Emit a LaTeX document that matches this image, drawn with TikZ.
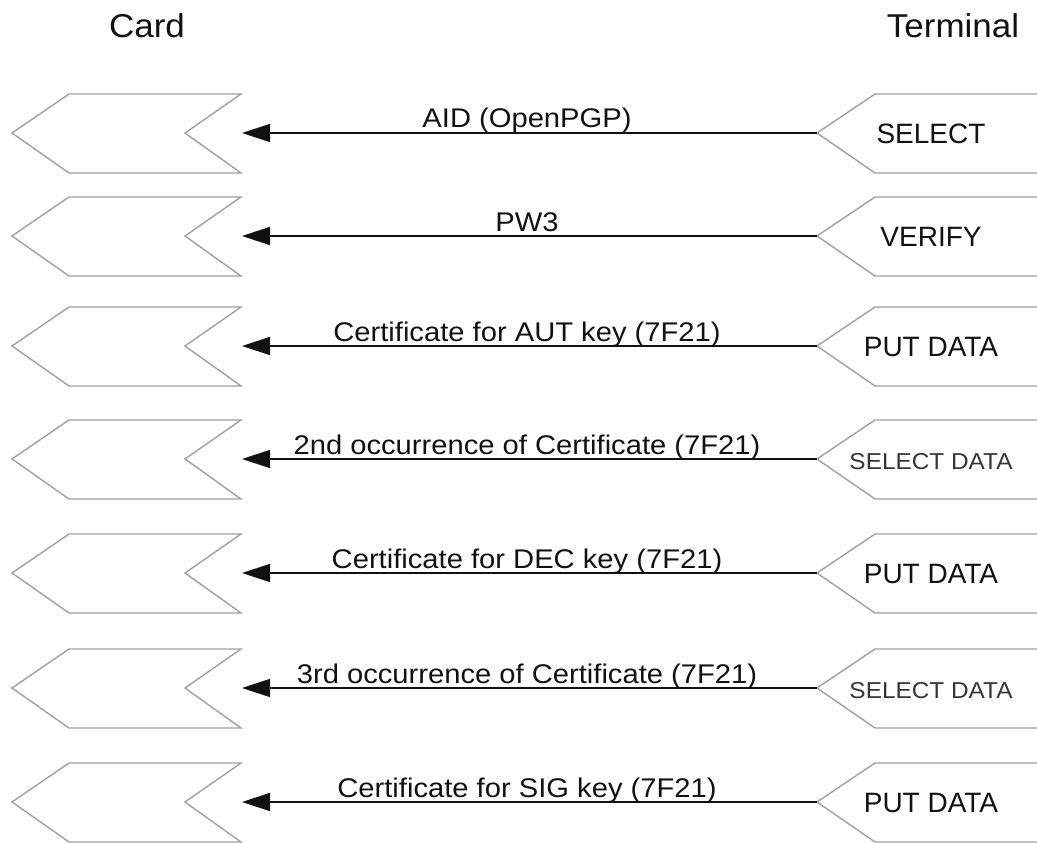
\documentclass[tikz,border=0pt]{standalone}
\usepackage{fontspec}
\setmainfont{Liberation Sans}
\newfontfamily\widefont[FakeStretch=1.08]{Liberation Sans}
\newfontfamily\headfont[FakeStretch=1.06]{Liberation Sans}
\newfontfamily\thincmdfont[FakeStretch=1.06]{Liberation Sans}
\usetikzlibrary{arrows.meta}

\definecolor{chevgray}{HTML}{A0A0A0}
\definecolor{ink}{HTML}{111111}

\tikzset{
  chevron/.style={draw=chevgray, line width=1.4pt, line join=miter},
  msg/.style={draw=ink, line width=1.4pt, -{Triangle[length=28pt,width=18pt]}},
  cmd/.style={font=\fontsize{28}{32}\selectfont, anchor=base, inner sep=0pt, text=ink},
  cmdthin/.style={font=\thincmdfont\fontsize{23}{26}\selectfont, anchor=base, inner sep=0pt, text=ink!85},
  lbl/.style={font=\widefont\fontsize{27}{30}\selectfont, anchor=base, inner sep=0pt, text=ink},
  head/.style={font=\headfont\fontsize{33}{36}\selectfont, anchor=base, inner sep=0pt, text=ink}
}

\begin{document}
\begin{tikzpicture}[x=1pt,y=-1pt]
\useasboundingbox (0,0) rectangle (1037,843);

% column headings
\node[head] (card) at (147,38) {Card};
\node[head] (terminal) at (953,38) {Terminal};

% one command exchange per row
\foreach \y/\lab/\cmd/\st [count=\i] in {
  133/{AID (OpenPGP)}/SELECT/cmd,
  236/PW3/VERIFY/cmd,
  346/{Certificate for AUT key (7F21)}/{PUT DATA}/cmd,
  459/{2nd occurrence of Certificate (7F21)}/{SELECT DATA}/cmdthin,
  573/{Certificate for DEC key (7F21)}/{PUT DATA}/cmd,
  688/{3rd occurrence of Certificate (7F21)}/{SELECT DATA}/cmdthin,
  802/{Certificate for SIG key (7F21)}/{PUT DATA}/cmd}
{
  % card side chevron
  \draw[chevron] (241,\y-39) -- (69,\y-39) -- (12,\y) -- (69,\y+40)
    -- (241,\y+40) -- (185,\y) -- cycle;
  % terminal side chevron (open to the right)
  \draw[chevron] (1045,\y-39) -- (875,\y-39) -- (817,\y) -- (875,\y+40)
    -- (1045,\y+40);
  \coordinate (card\i) at (242,\y);
  \coordinate (term\i) at (817,\y);
  \node[\st] (cmd\i) at (931,\y+10) {\cmd};
  \node[lbl] (lab\i) at (527,\y-5) {\lab};
  \draw[msg] (term\i) -- (card\i);
}
\end{tikzpicture}
\end{document}
